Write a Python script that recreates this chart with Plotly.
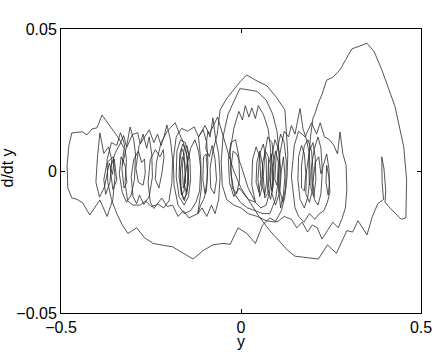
import plotly.graph_objects as go

# trajectory pieces, (y, d/dt y) pairs, in drawing order
left_loop = [
    (-0.330, 0.0020), (-0.325, 0.0080), (-0.340, 0.0116), (-0.364, 0.0160),
    (-0.386, 0.0197), (-0.400, 0.0152), (-0.414, 0.0148), (-0.428, 0.0127),
    (-0.440, 0.0138), (-0.458, 0.0136), (-0.470, 0.0134), (-0.478, 0.0090),
    (-0.483, 0.0020), (-0.481, -0.0060), (-0.470, -0.0095), (-0.455, -0.0100),
    (-0.440, -0.0112), (-0.420, -0.0155), (-0.405, -0.0125), (-0.392, -0.0102),
    (-0.372, -0.0160), (-0.356, -0.0100), (-0.350, -0.0020), (-0.355, 0.0050),
]

left_cluster = [
    (-0.372, 0.0030), (-0.381, -0.0030), (-0.376, -0.0082), (-0.364, -0.0040),
    (-0.359, 0.0040), (-0.368, 0.0085), (-0.381, 0.0062), (-0.392, 0.0134),
    (-0.399, 0.0045), (-0.403, -0.0040), (-0.393, -0.0092), (-0.379, -0.0055),
    (-0.366, 0.0028), (-0.357, -0.0012), (-0.352, 0.0042), (-0.345, -0.0032),
    (-0.356, -0.0065), (-0.363, 0.0008), (-0.349, 0.0065), (-0.336, 0.0095),
    (-0.326, 0.0125), (-0.318, 0.0085), (-0.308, 0.0155), (-0.298, 0.0110),
    (-0.293, 0.0060), (-0.296, -0.0030), (-0.305, -0.0085), (-0.318, -0.0110),
    (-0.330, -0.0075), (-0.338, -0.0010), (-0.333, 0.0050), (-0.322, 0.0020),
    (-0.317, -0.0040), (-0.325, -0.0060), (-0.331, 0.0010), (-0.320, 0.0075),
    (-0.302, 0.0128), (-0.287, 0.0135), (-0.280, 0.0095), (-0.272, 0.0130),
    (-0.262, 0.0080), (-0.255, 0.0120), (-0.248, 0.0060), (-0.246, -0.0020),
    (-0.255, -0.0090), (-0.270, -0.0118), (-0.282, -0.0085), (-0.290, -0.0115),
    (-0.300, -0.0090), (-0.305, -0.0020), (-0.298, 0.0040), (-0.285, 0.0070),
    (-0.276, 0.0030), (-0.268, 0.0042), (-0.266, -0.0008), (-0.272, -0.0050),
    (-0.285, -0.0040), (-0.292, 0.0010), (-0.283, 0.0090), (-0.268, 0.0120),
    (-0.255, 0.0145), (-0.242, 0.0100), (-0.232, 0.0130), (-0.222, 0.0090),
    (-0.214, 0.0120), (-0.206, 0.0162), (-0.196, 0.0110), (-0.190, 0.0040),
    (-0.192, -0.0040), (-0.200, -0.0105), (-0.215, -0.0130), (-0.232, -0.0115),
    (-0.242, -0.0132), (-0.252, -0.0110), (-0.258, -0.0040), (-0.252, 0.0040),
    (-0.238, 0.0075), (-0.225, 0.0050), (-0.216, 0.0075), (-0.214, 0.0048),
    (-0.220, -0.0010), (-0.228, -0.0060), (-0.238, -0.0030), (-0.235, 0.0030),
    (-0.222, 0.0100), (-0.205, 0.0140), (-0.183, 0.0170), (-0.170, 0.0128),
    (-0.160, 0.0100), (-0.150, 0.0050),
]

dense_left = [
    (-0.146, -0.0020), (-0.150, -0.0080), (-0.160, -0.0100), (-0.168, -0.0050),
    (-0.170, 0.0030), (-0.165, 0.0080), (-0.158, 0.0060), (-0.155, -0.0010),
    (-0.158, -0.0070), (-0.165, -0.0085), (-0.172, -0.0020), (-0.170, 0.0060),
    (-0.162, 0.0095), (-0.152, 0.0070), (-0.147, 0.0010), (-0.150, -0.0060),
    (-0.157, -0.0105), (-0.166, -0.0075), (-0.168, 0.0000), (-0.163, 0.0050),
    (-0.156, 0.0030), (-0.154, -0.0040), (-0.160, -0.0060), (-0.163, 0.0010),
    (-0.158, 0.0080), (-0.150, 0.0090), (-0.142, 0.0040), (-0.140, -0.0030),
    (-0.146, -0.0090), (-0.158, -0.0120), (-0.172, -0.0090), (-0.180, -0.0020),
    (-0.178, 0.0070), (-0.168, 0.0110), (-0.155, 0.0100), (-0.146, 0.0060),
    (-0.152, 0.0000), (-0.158, -0.0045), (-0.152, -0.0075), (-0.145, -0.0040),
    (-0.148, 0.0030), (-0.140, 0.0080), (-0.128, 0.0110), (-0.118, 0.0070),
    (-0.112, 0.0010), (-0.115, -0.0070), (-0.125, -0.0110), (-0.140, -0.0140),
    (-0.158, -0.0150), (-0.175, -0.0120), (-0.186, -0.0050), (-0.188, 0.0040),
    (-0.180, 0.0120), (-0.165, 0.0150), (-0.148, 0.0140), (-0.130, 0.0155),
    (-0.118, 0.0120), (-0.105, 0.0145), (-0.095, 0.0100),
]

mid_band = [
    (-0.092, 0.0030), (-0.095, -0.0040), (-0.100, -0.0080), (-0.106, -0.0030),
    (-0.104, 0.0050), (-0.097, 0.0060), (-0.093, -0.0010), (-0.096, -0.0070),
    (-0.104, -0.0100), (-0.112, -0.0120), (-0.120, -0.0150), (-0.108, -0.0130),
    (-0.095, -0.0160), (-0.082, -0.0120), (-0.072, -0.0150), (-0.062, -0.0100),
    (-0.058, -0.0020), (-0.062, 0.0060), (-0.070, 0.0110), (-0.078, 0.0187),
    (-0.086, 0.0120), (-0.092, 0.0140), (-0.098, 0.0080), (-0.088, 0.0050),
    (-0.080, 0.0090), (-0.072, 0.0040), (-0.068, -0.0030), (-0.074, -0.0080),
    (-0.084, -0.0060), (-0.086, 0.0010), (-0.078, 0.0070), (-0.066, 0.0130),
    (-0.058, 0.0215),
]

central_rings = [
    (-0.040, 0.0255), (-0.022, 0.0285), (0.000, 0.0318), (0.016, 0.0338),
    (0.040, 0.0320), (0.072, 0.0300), (0.098, 0.0260), (0.122, 0.0215),
    (0.127, 0.0138), (0.130, 0.0060), (0.128, -0.0020), (0.122, -0.0090),
    (0.112, -0.0140), (0.095, -0.0180), (0.070, -0.0175), (0.045, -0.0160),
    (0.020, -0.0150), (0.000, -0.0130), (-0.020, -0.0120), (-0.040, -0.0100),
    (-0.052, -0.0050), (-0.055, 0.0030), (-0.050, 0.0120), (-0.036, 0.0200),
    (-0.018, 0.0250), (-0.003, 0.0290), (0.020, 0.0286), (0.045, 0.0280),
    (0.070, 0.0250), (0.088, 0.0200), (0.100, 0.0140), (0.106, 0.0060),
    (0.104, -0.0030), (0.096, -0.0100), (0.080, -0.0150), (0.060, -0.0150),
    (0.040, -0.0140), (0.018, -0.0130), (-0.002, -0.0110), (-0.018, -0.0080),
    (-0.028, -0.0010), (-0.030, 0.0070), (-0.020, 0.0150), (-0.006, 0.0210),
    (0.004, 0.0180), (0.012, 0.0230), (0.022, 0.0190), (0.030, 0.0222),
    (0.040, 0.0185), (0.048, 0.0230), (0.062, 0.0200), (0.075, 0.0150),
    (0.082, 0.0080), (0.084, 0.0000), (0.080, -0.0070), (0.070, -0.0120),
    (0.055, -0.0130), (0.040, -0.0110), (0.020, -0.0100), (-0.005, -0.0060),
    (-0.020, -0.0090), (-0.032, -0.0040), (-0.035, 0.0040), (-0.028, 0.0100),
    (-0.015, 0.0110), (-0.006, 0.0050), (-0.004, -0.0030), (-0.012, -0.0080),
    (-0.024, -0.0060), (-0.028, 0.0010), (-0.022, 0.0070), (-0.012, 0.0060),
    (0.000, 0.0020), (0.020, -0.0060), (0.040, -0.0110),
]

dense_center = [
    (0.030, -0.0050), (0.032, 0.0040), (0.042, 0.0085), (0.052, 0.0050),
    (0.055, -0.0030), (0.050, -0.0075), (0.042, -0.0040), (0.044, 0.0030),
    (0.052, 0.0070), (0.060, 0.0020), (0.058, -0.0060), (0.052, -0.0090),
    (0.047, -0.0030), (0.052, 0.0060), (0.062, 0.0095), (0.070, 0.0040),
    (0.071, -0.0040), (0.066, -0.0085), (0.058, -0.0050), (0.060, 0.0030),
    (0.068, 0.0070), (0.076, 0.0050), (0.078, -0.0020), (0.074, -0.0080),
    (0.066, -0.0095), (0.062, -0.0020), (0.066, 0.0060), (0.074, 0.0120),
    (0.086, 0.0100), (0.092, 0.0030), (0.090, -0.0050), (0.082, -0.0100),
    (0.074, -0.0060), (0.076, 0.0020), (0.084, 0.0060), (0.090, -0.0010),
    (0.086, -0.0070), (0.080, -0.0030), (0.084, 0.0040), (0.094, 0.0110),
    (0.104, 0.0080), (0.110, 0.0010), (0.106, -0.0080), (0.096, -0.0120),
    (0.086, -0.0080), (0.088, 0.0010), (0.096, 0.0070), (0.104, 0.0030),
    (0.100, -0.0050), (0.094, -0.0030), (0.098, 0.0060), (0.110, 0.0130),
    (0.120, 0.0100), (0.126, 0.0030), (0.124, -0.0060), (0.116, -0.0110),
    (0.108, -0.0070), (0.112, 0.0000), (0.118, 0.0050), (0.122, -0.0020),
    (0.118, -0.0080), (0.110, -0.0130), (0.104, -0.0060), (0.108, 0.0060),
    (0.120, 0.0140),
]

right_cluster = [
    (0.132, 0.0120), (0.140, 0.0160), (0.150, 0.0130), (0.164, 0.0220),
    (0.172, 0.0150), (0.182, 0.0110), (0.190, 0.0060), (0.192, -0.0020),
    (0.186, -0.0090), (0.176, -0.0130), (0.164, -0.0100), (0.158, -0.0030),
    (0.160, 0.0050), (0.168, 0.0090), (0.176, 0.0060), (0.180, -0.0010),
    (0.176, -0.0070), (0.168, -0.0060), (0.168, 0.0020), (0.176, 0.0090),
    (0.186, 0.0110), (0.196, 0.0070), (0.200, 0.0000), (0.198, -0.0070),
    (0.190, -0.0110), (0.180, -0.0080), (0.182, 0.0000), (0.190, 0.0070),
    (0.200, 0.0100), (0.206, 0.0050), (0.208, -0.0030), (0.202, -0.0090),
    (0.194, -0.0060), (0.196, 0.0020), (0.204, 0.0080), (0.214, 0.0120),
    (0.222, 0.0080), (0.226, 0.0000), (0.222, -0.0080), (0.214, -0.0120),
    (0.204, -0.0100), (0.200, -0.0040), (0.206, 0.0030), (0.216, 0.0050),
    (0.222, -0.0010), (0.230, 0.0030), (0.238, 0.0060), (0.244, 0.0010),
    (0.246, -0.0040), (0.242, -0.0085), (0.236, -0.0040), (0.238, 0.0020),
    (0.244, -0.0020), (0.247, -0.0075), (0.240, -0.0110), (0.230, -0.0140),
    (0.218, -0.0150),
]

right_boundary = [
    (0.205, -0.0170), (0.190, -0.0150), (0.175, -0.0180), (0.160, -0.0160),
    (0.150, -0.0130), (0.140, -0.0020), (0.148, 0.0090), (0.160, 0.0140),
    (0.178, 0.0120), (0.196, 0.0170), (0.210, 0.0130), (0.220, 0.0170),
    (0.232, 0.0120), (0.246, 0.0110), (0.258, 0.0090), (0.268, 0.0060),
    (0.275, 0.0137), (0.283, 0.0060), (0.292, 0.0020), (0.294, -0.0067),
    (0.290, -0.0130), (0.280, -0.0170), (0.270, -0.0200), (0.255, -0.0180),
    (0.240, -0.0210), (0.225, -0.0240), (0.212, -0.0200), (0.198, -0.0190),
    (0.185, -0.0215), (0.170, -0.0180), (0.155, -0.0200), (0.140, -0.0170),
    (0.120, -0.0160),
]

lower_arc = [
    (0.100, -0.0180), (0.080, -0.0165), (0.060, -0.0190), (0.040, -0.0255),
    (0.016, -0.0220), (-0.008, -0.0200), (-0.030, -0.0258), (-0.050, -0.0255),
    (-0.078, -0.0260), (-0.105, -0.0280), (-0.133, -0.0310), (-0.160, -0.0290),
    (-0.190, -0.0267), (-0.215, -0.0262), (-0.244, -0.0255), (-0.268, -0.0235),
    (-0.290, -0.0200), (-0.314, -0.0220), (-0.330, -0.0190), (-0.345, -0.0150),
    (-0.360, -0.0100), (-0.370, -0.0040), (-0.372, 0.0040),
]

band_return = [
    (-0.360, 0.0100), (-0.345, 0.0090), (-0.335, 0.0135), (-0.325, 0.0100),
    (-0.318, 0.0040), (-0.322, -0.0040), (-0.315, -0.0105), (-0.300, -0.0120),
    (-0.280, -0.0120), (-0.265, -0.0105), (-0.250, -0.0125), (-0.235, -0.0120),
    (-0.220, -0.0095), (-0.205, -0.0125), (-0.190, -0.0120), (-0.175, -0.0160),
    (-0.160, -0.0140), (-0.145, -0.0165), (-0.120, -0.0150), (-0.110, -0.0060),
    (-0.112, 0.0040), (-0.118, 0.0120), (-0.100, 0.0160), (-0.088, 0.0130),
    (-0.065, 0.0190),
]

big_right = [
    (-0.050, 0.0120), (-0.035, 0.0060), (-0.020, 0.0000), (0.000, -0.0060),
    (0.020, -0.0100), (0.050, -0.0160), (0.080, -0.0210), (0.110, -0.0250),
    (0.130, -0.0280), (0.150, -0.0300), (0.180, -0.0305), (0.215, -0.0310),
    (0.240, -0.0260), (0.265, -0.0290), (0.294, -0.0210), (0.310, -0.0215),
    (0.325, -0.0175), (0.350, -0.0225), (0.365, -0.0160), (0.380, -0.0115),
    (0.396, -0.0100), (0.392, -0.0040), (0.391, 0.0050), (0.397, 0.0010),
    (0.402, -0.0070), (0.400, -0.0110), (0.410, -0.0125), (0.430, -0.0150),
    (0.445, -0.0170), (0.458, -0.0165), (0.460, -0.0030), (0.452, 0.0085),
    (0.440, 0.0160), (0.428, 0.0226), (0.410, 0.0290), (0.390, 0.0360),
    (0.370, 0.0420), (0.350, 0.0450), (0.330, 0.0440), (0.308, 0.0430),
    (0.290, 0.0390), (0.275, 0.0356), (0.255, 0.0330), (0.238, 0.0320),
    (0.225, 0.0270), (0.215, 0.0240), (0.205, 0.0200), (0.200, 0.0187),
    (0.193, 0.0120), (0.188, 0.0040), (0.190, -0.0050),
]

segments = [left_loop, left_cluster, dense_left, mid_band, central_rings,
            dense_center, right_cluster, right_boundary, lower_arc,
            band_return, big_right]

ys = [p[0] for seg in segments for p in seg]
dys = [p[1] for seg in segments for p in seg]

fig = go.Figure(go.Scatter(
    x=ys, y=dys, mode='lines',
    line=dict(color='#2a2a2a', width=0.8),
    hoverinfo='skip'
))

axis_common = dict(
    showgrid=False, zeroline=False, automargin=False,
    showline=True, linecolor='black', linewidth=1, mirror='ticks',
    ticks='inside', ticklen=4, tickcolor='black',
    tickfont=dict(family='Liberation Sans, Arial', size=16, color='black'),
)

fig.update_layout(
    width=436, height=352,
    margin=dict(l=61, r=15, t=29, b=39),
    paper_bgcolor='white', plot_bgcolor='white',
    showlegend=False,
    xaxis=dict(range=[-0.5, 0.5], tickvals=[-0.5, 0, 0.5],
               ticktext=['\u22120.5', '0', '0.5'], **axis_common),
    yaxis=dict(range=[-0.05, 0.05], tickvals=[-0.05, 0, 0.05],
               ticktext=['\u22120.05', '0', '0.05'], **axis_common),
    annotations=[
        dict(text='y', xref='paper', yref='paper', x=0.5, y=-0.102,
             showarrow=False, xanchor='center', yanchor='middle',
             font=dict(family='Liberation Sans, Arial', size=16, color='black')),
        dict(text='d/dt y', xref='paper', yref='paper', x=-0.149, y=0.51,
             showarrow=False, xanchor='center', yanchor='middle', textangle=-90,
             font=dict(family='Liberation Sans, Arial', size=16, color='black')),
    ],
)

# drop the default 8px page margin so the figure sits at the window's corner
fig.write_html("out.html", config={'displayModeBar': False},
               post_script="document.body.style.margin='0';")
